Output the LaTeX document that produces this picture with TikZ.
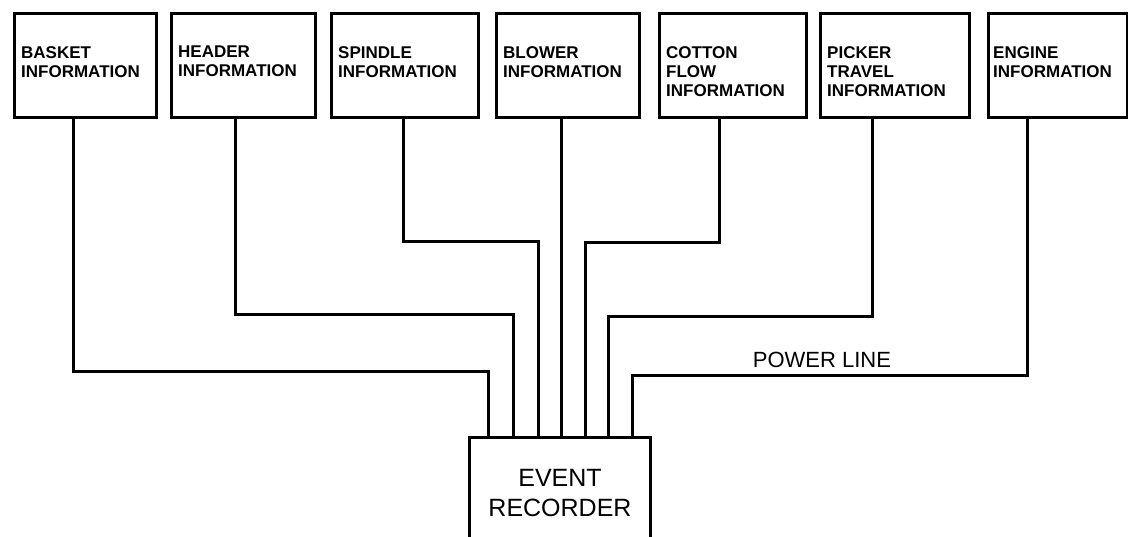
\documentclass[tikz,border=0pt]{standalone}
\usepackage{fontspec}
\setmainfont{Liberation Sans}
\usepackage{tikz}
\usetikzlibrary{calc}

\tikzset{
  infobox/.style={draw, line width=3pt, anchor=north west,
    minimum height=104pt, inner sep=0pt},
  infotext/.style={anchor=north west, align=left, inner sep=0pt,
    font=\fontsize{17}{19}\selectfont\bfseries},
  wire/.style={line width=3pt},
}

\begin{document}
\begin{tikzpicture}[x=1pt,y=-1pt]
    \useasboundingbox (0,0) rectangle (1128,537);

    % source boxes along the top
    \foreach \n/\x/\w in {basket/13/142, header/170/144, spindle/330/147,
      blower/495/143, cotton/658/147, picker/819/149, engine/987/139}
      \node[infobox, minimum width=\w pt] (\n) at (\x,12) {};

    \node[infotext] (basket-txt) at ([shift={(8,34)}]basket.north west) {BASKET\\INFORMATION};
    \node[infotext] (header-txt) at ([shift={(8,34)}]header.north west) {HEADER\\INFORMATION};
    \node[infotext] (spindle-txt) at ([shift={(8,34)}]spindle.north west) {SPINDLE\\INFORMATION};
    \node[infotext] (blower-txt) at ([shift={(8,34)}]blower.north west) {BLOWER\\INFORMATION};
    \node[infotext] (cotton-txt) at ([shift={(8,34)}]cotton.north west) {COTTON\\FLOW\\INFORMATION};
    \node[infotext] (picker-txt) at ([shift={(8,34)}]picker.north west) {PICKER\\TRAVEL\\INFORMATION};
    \node[infotext] (engine-txt) at ([shift={(6,34)}]engine.north west) {ENGINE\\INFORMATION};

    % recorder, open at the bottom edge
    \node[minimum width=180pt, minimum height=110pt, inner sep=0pt,
      align=center, font=\fontsize{25}{30}\selectfont] (rec) at (560,493)
      {EVENT\\RECORDER};
    \draw[wire] (rec.west |- 0,537) |- (rec.north) -| (rec.east |- 0,537);

    % wires
    \foreach \n/\xa/\ym/\xb in {
      basket/73/372/488,
      header/235/315/513,
      spindle/403/242/538,
      cotton/719/243/585,
      picker/872/317/608,
      engine/1027/376/632
    }{
      \draw[wire] (\n.south -| \xa,0) |- (\xb,\ym) -- (rec.north -| \xb,0);
    }
    \draw[wire] (blower.south -| 561,0) -- (rec.north -| 561,0);

    \node[font=\fontsize{22}{26}\selectfont, inner sep=0pt] (powerlbl)
      at (822,360) {POWER LINE};
  \end{tikzpicture}
\end{document}
